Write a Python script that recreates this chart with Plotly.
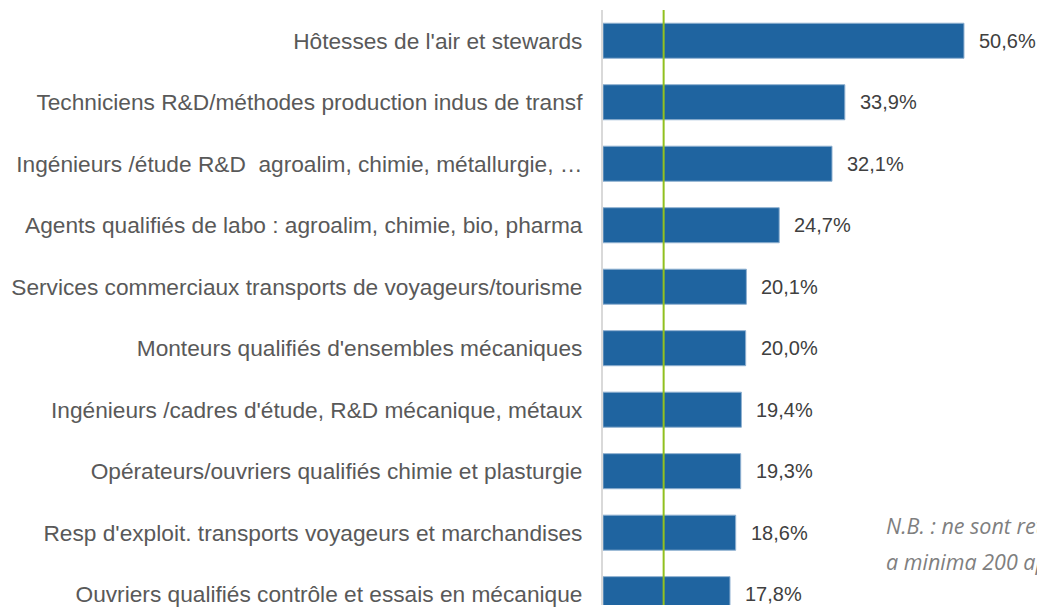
import plotly.graph_objects as go

categories = [
    "Hôtesses de l'air et stewards",
    "Techniciens R&D/méthodes production indus de transf",
    "Ingénieurs /étude R&D  agroalim, chimie, métallurgie, …",
    "Agents qualifiés de labo : agroalim, chimie, bio, pharma",
    "Services commerciaux transports de voyageurs/tourisme",
    "Monteurs qualifiés d'ensembles mécaniques",
    "Ingénieurs /cadres d'étude, R&D mécanique, métaux",
    "Opérateurs/ouvriers qualifiés chimie et plasturgie",
    "Resp d'exploit. transports voyageurs et marchandises",
    "Ouvriers qualifiés contrôle et essais en mécanique",
]
values = [50.6, 33.9, 32.1, 24.7, 20.1, 20.0, 19.4, 19.3, 18.6, 17.8]
labels = ["50,6%", "33,9%", "32,1%", "24,7%", "20,1%", "20,0%", "19,4%", "19,3%", "18,6%", "17,8%"]
average = 8.5
note_lines = ["N.B. : ne sont retenus que les métiers ayant", "a minima 200 apprentis"]

W, H = 1037, 607
ml, mt = 603, 10
pw, ph = W - ml, H - mt

fig = go.Figure()
fig.add_trace(go.Bar(
    y=categories, x=values, orientation="h",
    width=0.57,
    marker=dict(color="#1F64A0", line=dict(color="#8FB0D0", width=1)),
    hoverinfo="skip",
))

annotations = []
for c, v, t in zip(categories, values, labels):
    annotations.append(dict(
        x=v, y=c, xref="x", yref="y", text=t, showarrow=False,
        xanchor="left", yanchor="middle", xshift=13,
        font=dict(family="Liberation Sans, Arial, sans-serif", size=20, color="#404040"),
    ))
for i, line in enumerate(note_lines):
    sx, sy = 884, 527 + i * 36
    annotations.append(dict(
        x=(sx - ml) / pw, y=1 - (sy - mt) / ph, xref="paper", yref="paper",
        text=line, showarrow=False, xanchor="left", yanchor="middle",
        font=dict(family="Open Sans, sans-serif", size=21.5, color="#7F7F7F", style="italic"),
    ))

fig.update_layout(
    width=W, height=H,
    margin=dict(l=ml, r=0, t=mt, b=0, pad=0),
    paper_bgcolor="white", plot_bgcolor="white",
    showlegend=False,
    annotations=annotations,
    xaxis=dict(range=[0, pw / 7.134], showgrid=False, zeroline=False,
               showticklabels=False, showline=False, fixedrange=True),
    yaxis=dict(type="category", range=[9.176, -0.5], showgrid=False, zeroline=False,
               showline=True, linecolor="#D9D9D9", linewidth=2,
               ticks="", ticklabelstandoff=14,
               tickfont=dict(family="Liberation Sans, Arial, sans-serif", size=22.7, color="#595959"),
               fixedrange=True),
    shapes=[dict(type="line", xref="x", yref="paper", x0=average, x1=average, y0=0, y1=1,
                 line=dict(color="#92C01F", width=2))],
)

fig.write_html(
    "out.html",
    config={"displayModeBar": False},
    post_script="document.body.style.margin='0';document.body.style.overflow='hidden';",
)
